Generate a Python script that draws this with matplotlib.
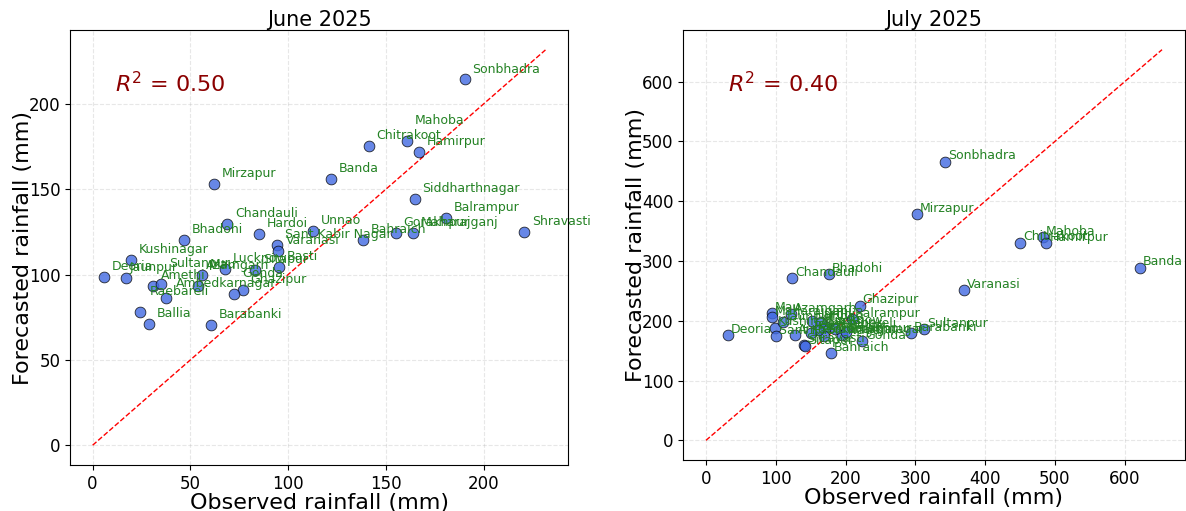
import matplotlib
matplotlib.use("Agg")
import matplotlib.pyplot as plt

# June 2025: observed vs forecasted rainfall (mm)
june_names = ['Sonbhadra', 'Chitrakoot', 'Mahoba', 'Hamirpur', 'Banda', 'Mirzapur',
              'Siddharthnagar', 'Balrampur', 'Shravasti', 'Chandauli', 'Hardoi', 'Unnao',
              'Bhadohi', 'Bahraich', 'Gorakhpur', 'Maharajganj', 'Sant Kabir Nagar',
              'Varanasi', 'Basti', 'Kushinagar', 'Deoria', 'Jaunpur', 'Amethi',
              'Sultanpur', 'Ambedkarnagar', 'Raebareli', 'Ballia', 'Barabanki',
              'Ghazipur', 'Gonda', 'Lucknow', 'Sitapur', 'Mau', 'Azamgarh']
june_obs = [190.3, 141.2, 160.6, 166.8, 121.8, 61.9, 164.8, 180.9, 220.6, 68.8, 85.1, 112.6,
            46.8, 138.2, 155.1, 163.8, 94.4, 94.8, 95.1, 19.6, 5.6, 17.3, 30.9,
            35.1, 37.4, 24.0, 28.9, 60.7, 76.8, 72.5, 67.9, 83.3, 55.8, 54.0]
june_fc = [214.3, 175.6, 178.1, 171.9, 155.9, 153.1, 144.5, 133.2, 125.0, 129.9, 124.0, 125.4,
           120.1, 120.1, 124.6, 124.6, 117.2, 114.1, 104.7, 108.4, 98.6, 98.0, 93.4,
           94.3, 86.5, 78.1, 70.9, 70.5, 90.8, 88.7, 103.3, 102.9, 100.0, 93.2]
june_r2 = 0.50

# July 2025
july_names = ['Sonbhadra', 'Mirzapur', 'Chitrakoot', 'Mahoba', 'Hamirpur', 'Banda',
              'Varanasi', 'Chandauli', 'Bhadohi', 'Ghazipur', 'Mau', 'Maharajganj',
              'Azamgarh', 'Kushinagar', 'Sant Kabir Nagar', 'Balrampur', 'Gonda',
              'Bahraich', 'Deoria', 'Barabanki', 'Sultanpur', 'Ambedkarnagar',
              'Shravasti', 'Sitapur', 'Hardoi', 'Lucknow', 'Siddharthnagar', 'Jaunpur',
              'Gorakhpur', 'Unnao', 'Amethi', 'Raebareli', 'Ballia', 'Basti']
july_obs = [342.9, 301.9, 450.0, 482.9, 488.0, 622.4, 369.5, 123.8, 175.7, 220.5, 94.0, 94.0,
            121.4, 98.6, 101.0, 209.0, 224.3, 178.6, 31.0, 293.3, 312.4, 128.0,
            140.0, 141.9, 152.0, 172.0, 169.5, 111.0, 195.0, 165.0, 160.0, 185.0, 200.0, 150.0]
july_fc = [466.3, 378.4, 330.5, 339.5, 330.0, 288.8, 251.5, 271.0, 278.2, 225.4, 213.0, 206.0,
           211.5, 188.6, 174.0, 203.0, 165.8, 145.8, 176.0, 179.2, 186.4, 176.4,
           160.3, 157.5, 200.0, 190.0, 175.0, 198.0, 177.0, 198.0, 185.0, 186.0, 182.0, 180.0]
july_r2 = 0.40

# labels that were pushed off their default spot (data units)
june_nudge = {'Mahoba': (0, 6), 'Sultanpur': (0, 6), 'Raebareli': (1, 6), 'Azamgarh': (0, 6),
              'Gonda': (0, 6), 'Ambedkarnagar': (1, 2), 'Jaunpur': (-2.5, 0)}
july_nudge = {}


def draw_panel(ax, obs, fc, names, r2, title, nudge):
    ax.scatter(obs, fc, s=60, color='royalblue', edgecolor='black', linewidth=0.6,
               alpha=0.8, zorder=3)
    lim = max(max(obs), max(fc)) * 1.05
    ax.plot([0, lim], [0, lim], 'r--', linewidth=1, zorder=2)
    for x, y, n in zip(obs, fc, names):
        dx, dy = nudge.get(n, (0, 0))
        ax.text(x + 4 + dx, y + 4 + dy, n, fontsize=9, color='#248224', zorder=4)
    ax.text(0.09, 0.905, f'$R^2$ = {r2:.2f}', transform=ax.transAxes, fontsize=16,
            color='darkred', va='top')
    ax.set_title(title, fontsize=15, pad=3)
    ax.set_xlabel('Observed rainfall (mm)', fontsize=16, labelpad=0)
    ax.set_ylabel('Forecasted rainfall (mm)', fontsize=16, labelpad=-3)
    ax.tick_params(labelsize=12)
    ax.grid(True, linestyle='--', alpha=0.3)


fig = plt.figure(figsize=(11.86, 5.11), dpi=100)
ax1 = fig.add_axes([0.059, 0.09, 0.42, 0.851])
ax2 = fig.add_axes([0.576, 0.10, 0.423, 0.841])

draw_panel(ax1, june_obs, june_fc, june_names, june_r2, 'June 2025', june_nudge)
draw_panel(ax2, july_obs, july_fc, july_names, july_r2, 'July 2025', july_nudge)
ax1.set_xticks([0, 50, 100, 150, 200])
ax1.set_yticks([0, 50, 100, 150, 200])
ax2.set_xticks([0, 100, 200, 300, 400, 500, 600])
ax2.set_yticks([0, 100, 200, 300, 400, 500, 600])

fig.savefig('out.png', dpi=100)
